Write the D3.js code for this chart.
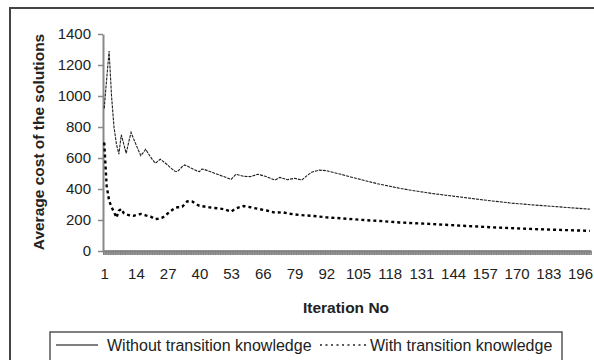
<!DOCTYPE html>
<html>
<head>
<meta charset="utf-8">
<script src="https://cdn.jsdelivr.net/npm/d3@7"></script>
<style>
  body { margin: 0; background: #fff; }
  text { font-family: "Liberation Sans", Arial, Helvetica, sans-serif; }
</style>
</head>
<body>
<script>
// ---------- data ----------
const yTicks = [0, 200, 400, 600, 800, 1000, 1200, 1400];
const xTickLabels = [1, 14, 27, 40, 53, 66, 79, 92, 105, 118, 131, 144, 157, 170, 183, 196];
const nIterations = 200;

const iterWithout = [1,2,3,4,5,6,7,8,9,10,11,12,13,14,15,16,17,18,19,20,21,22,23,24,25,26,27,28,29,30,31,32,33,34,35,36,37,38,39,40,41,42,44,47,50,53,55,58,61,64,67,71,73,76,79,82,84,86,89,92,95,98,102,106,110,113,118,122,126,130,135,141,147,153,160,168,176,184,192,200];
const costWithout = [920,1110,1290,1000,800,690,625,750,690,630,700,765,725,688,650,615,635,656,630,606,585,566,580,592,580,568,555,540,527,515,513,528,545,555,548,540,532,524,517,512,529,526,515,497,480,462,495,482,480,495,482,458,475,460,469,458,485,508,522,518,506,495,478,462,446,434,418,405,394,384,372,360,348,336,323,309,298,289,279,270];

const iterWith = [1,2,3,4,5,6,7,8,9,10,11,12,13,14,15,16,17,18,19,20,21,22,23,24,25,26,27,28,29,30,31,32,33,34,35,36,37,38,39,40,42,44,46,48,50,53,55,58,61,64,68,71,74,77,81,87,92,98,103,110,114,118,122,126,134,141,150,160,170,180,190,200];
const costWith = [700,420,325,283,252,215,260,272,245,236,232,228,227,232,236,239,235,230,226,222,214,205,208,212,217,228,242,254,266,278,282,282,286,302,320,322,320,310,300,292,287,282,278,275,270,254,275,290,282,272,260,247,250,240,232,226,217,211,205,197,194,189,184,181,175,169,161,153,146,140,135,130];

const seriesNames = ["Without transition knowledge", "With transition knowledge"];
const yTitle = "Average cost of the solutions";
const xTitle = "Iteration No";

// ---------- drawing ----------
const W = 594, H = 360;
const svg = d3.select("body").append("svg").attr("width", W).attr("height", H);
svg.append("rect").attr("width", W).attr("height", H).attr("fill", "#fff");

// outer chart frame (cut off at right and bottom)
svg.append("rect").attr("x", 10).attr("y", 8).attr("width", 620).attr("height", 400)
  .attr("fill", "none").attr("stroke", "#444").attr("stroke-width", 2);

const y = d3.scaleLinear().domain([0, 1400]).range([251, 34]);
const x = d3.scaleLinear().domain([0.5, nIterations + 0.5]).range([103, 591]);

// x axis: dense category tick band
svg.append("rect").attr("x", x(0.5)).attr("y", 250).attr("width", x(nIterations + 0.5) - x(0.5)).attr("height", 5)
  .attr("fill", "#9a9a9a");
const xBand = svg.append("g").attr("transform", "translate(0,251)")
  .call(d3.axisBottom(x).tickValues(d3.range(0.5, nIterations + 0.6, 1)).tickSize(4).tickFormat("").tickSizeOuter(0));
xBand.selectAll("line").attr("stroke", "#7a7a7a").attr("stroke-width", 0.8);
xBand.select(".domain").attr("stroke", "#888").attr("stroke-width", 2);

// x labels
const xLab = svg.append("g").attr("transform", "translate(0,251)")
  .call(d3.axisBottom(x).tickValues(xTickLabels).tickSize(0).tickPadding(17));
xLab.select(".domain").remove();
xLab.selectAll("text").attr("font-size", 15).attr("fill", "#222")
  .attr("font-family", "'Liberation Sans', Arial, sans-serif");

// y axis
const yAx = svg.append("g").attr("transform", "translate(103,0)")
  .call(d3.axisLeft(y).tickValues(yTicks).tickFormat(d3.format("d")).tickSize(5).tickPadding(7).tickSizeOuter(0));
yAx.select(".domain").attr("stroke", "#888").attr("stroke-width", 2);
yAx.selectAll("line").attr("stroke", "#888").attr("stroke-width", 1.5);
yAx.selectAll("text").attr("font-size", 15).attr("fill", "#222")
  .attr("font-family", "'Liberation Sans', Arial, sans-serif");

// axis titles
svg.append("text").attr("transform", "translate(44,142) rotate(-90)")
  .attr("text-anchor", "middle").attr("font-size", 15.5).attr("font-weight", "bold")
  .attr("fill", "#222").text(yTitle);
svg.append("text").attr("x", 346).attr("y", 313)
  .attr("text-anchor", "middle").attr("font-size", 15.5).attr("font-weight", "bold")
  .attr("fill", "#222").text(xTitle);

// series
const line = d3.line().x(d => x(d[0])).y(d => y(d[1]));
const dWithout = iterWithout.map((it, i) => [it, costWithout[i]]);
const dWith = iterWith.map((it, i) => [it, costWith[i]]);

svg.append("path").datum(dWith).attr("d", line)
  .attr("fill", "none").attr("stroke", "#000").attr("stroke-width", 2.4)
  .attr("stroke-dasharray", "3,3");
svg.append("path").datum(dWithout).attr("d", line)
  .attr("fill", "none").attr("stroke", "#1e1e1e").attr("stroke-width", 1.1)
  .attr("stroke-dasharray", "3,1");

// legend
const lg = svg.append("g");
lg.append("rect").attr("x", 50).attr("y", 332).attr("width", 512).attr("height", 50)
  .attr("fill", "#fff").attr("stroke", "#555").attr("stroke-width", 1.5);
lg.append("line").attr("x1", 56).attr("x2", 98).attr("y1", 345).attr("y2", 345)
  .attr("stroke", "#555").attr("stroke-width", 1.5);
lg.append("text").attr("x", 107).attr("y", 350.5).attr("font-size", 16).attr("fill", "#222")
  .text(seriesNames[0]);
lg.append("line").attr("x1", 320).attr("x2", 367).attr("y1", 345).attr("y2", 345)
  .attr("stroke", "#222").attr("stroke-width", 1.5).attr("stroke-dasharray", "2,3.5");
lg.append("text").attr("x", 370).attr("y", 350.5).attr("font-size", 16).attr("fill", "#222")
  .text(seriesNames[1]);
</script>
</body>
</html>
